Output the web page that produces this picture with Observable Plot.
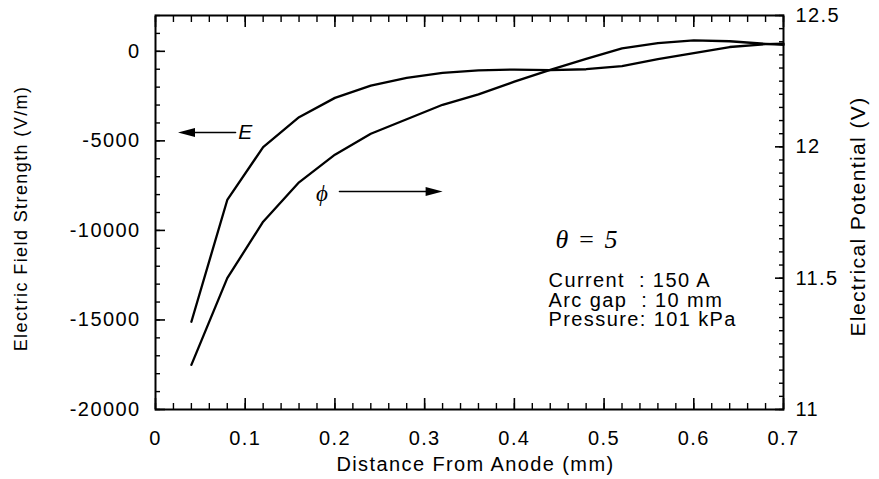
<!DOCTYPE html>
<html><head><meta charset="utf-8">
<script src="https://cdn.jsdelivr.net/npm/d3@7"></script>
<script src="https://cdn.jsdelivr.net/npm/@observablehq/plot@0.6"></script>
<style>
html,body{margin:0;padding:0;background:#fff;}
svg text{letter-spacing:1.4px;}
g[aria-label="ylabel"] text{letter-spacing:0;}
g[aria-label="ylabel2"] text{letter-spacing:1px;}
g[aria-label="info"] text{letter-spacing:1.2px;}
</style></head><body><div id="chart"></div>
<script>
// distance from anode (mm)
const distance  = [0.04, 0.08, 0.12, 0.16, 0.20, 0.24, 0.28, 0.32, 0.36, 0.40, 0.44, 0.48, 0.52, 0.56, 0.60, 0.64, 0.68, 0.70];
// electric field strength (V/m), left axis
const fieldE    = [-15100, -8300, -5350, -3680, -2600, -1920, -1480, -1200, -1060, -1020, -1050, -1000, -830, -430, -100, 240, 400, 430];
// electrical potential (V), right axis
const potential = [11.17, 11.50, 11.715, 11.865, 11.97, 12.05, 12.105, 12.16, 12.20, 12.248, 12.293, 12.335, 12.375, 12.395, 12.405, 12.402, 12.392, 12.388];

const xTicks   = [0, 0.1, 0.2, 0.3, 0.4, 0.5, 0.6, 0.7];
const eTicks   = [-20000, -15000, -10000, -5000, 0];
const phiTicks = [11, 11.5, 12, 12.5];

const E_MIN = -20000, E_MAX = 2000, P_MIN = 11, P_MAX = 12.5, X_MIN = 0, X_MAX = 0.7;
const toE = p => E_MIN + (p - P_MIN) / (P_MAX - P_MIN) * (E_MAX - E_MIN);
const toP = e => P_MIN + (e - E_MIN) / (E_MAX - E_MIN) * (P_MAX - P_MIN);

const xMinor = d3.range(0, 0.7001, 0.02);
const eMinor = d3.range(-20000, 2001, 1000);
const pMinor = d3.range(11, 12.5001, 0.05);

// annotations (data coordinates, left-axis units)
const eArrowLine = [{x: 0.0424, y: -4534}, {x: 0.0892, y: -4534}];
const eArrowHead = [{x: 0.0351, y: -4534}];
const eLabel     = [{x: 0.1009, y: -4534, t: "E"}];
const pArrowLine = [{x: 0.2051, y: -7829}, {x: 0.302, y: -7829}];
const pArrowHead = [{x: 0.310, y: -7829}];
const pLabel     = [{x: 0.1862, y: -7968, t: "\u03d5"}];
const thetaLabel = [{x: 0.4459, y: -10509, t: "\u03b8 = 5"}];
const infoLabel  = [{x: 0.4381, y: -12407, t: "Current\u00a0\u00a0: 150 A\nArc gap\u00a0\u00a0: 10 mm\nPressure: 101 kPa"}];

const series = distance.map((x, i) => ({x, E: fieldE[i], phi: potential[i]}));

const W = 879, H = 479, mL = 155, mR = 96, mT = 15, mB = 70;

const headRight = {draw(ctx) { ctx.moveTo(9, 0); ctx.lineTo(-8, -4.5); ctx.lineTo(-8, 4.5); ctx.closePath(); }};
const headLeft  = {draw(ctx) { ctx.moveTo(-9, 0); ctx.lineTo(8, -4.5); ctx.lineTo(8, 4.5); ctx.closePath(); }};

const font = "'Liberation Sans', Arial, Helvetica, sans-serif";
const serif = "'Liberation Serif', 'Times New Roman', serif";
const blank = () => "";

// inward ticks via axis marks (outward tick of length L shifted inward by L)
function inTicksX(vals, anchor, len, sw) {
  return Plot.axisX({ticks: vals, anchor, tickSize: len, dy: anchor === "bottom" ? -len : len, tickFormat: blank, label: null, strokeWidth: sw});
}
function inTicksY(vals, anchor, len, sw) {
  return Plot.axisY({ticks: vals, anchor, tickSize: len, dx: anchor === "left" ? len : -len, tickFormat: blank, label: null, strokeWidth: sw});
}

const chart = Plot.plot({
  width: W, height: H,
  marginLeft: mL, marginRight: mR, marginTop: mT, marginBottom: mB,
  style: {fontFamily: font, fontSize: "20px", background: "#fff", color: "#000"},
  x: {domain: [X_MIN, X_MAX]},
  y: {domain: [E_MIN, E_MAX]},
  marks: [
    Plot.frame({stroke: "#000", fill: "none", strokeWidth: 2}),
    // inward ticks
    inTicksX(xMinor, "bottom", 6, 1.4),
    inTicksX(xMinor, "top", 6, 1.4),
    inTicksX(xTicks, "bottom", 11, 1.6),
    inTicksX(xTicks, "top", 11, 1.6),
    inTicksY(eMinor, "left", 5, 1.4),
    inTicksY(eTicks, "left", 10, 1.6),
    inTicksY(pMinor.map(toE), "right", 5, 1.4),
    inTicksY(phiTicks.map(toE), "right", 9, 1.6),
    // tick labels
    Plot.axisX({ticks: xTicks, anchor: "bottom", tickSize: 0, tickPadding: 21, tickFormat: d => String(d), label: null, fontSize: 20}),
    Plot.axisY({ticks: eTicks, anchor: "left", tickSize: 0, tickPadding: 15, tickFormat: d => String(d), label: null, fontSize: 20}),
    Plot.axisY({ticks: phiTicks.map(toE), anchor: "right", tickSize: 0, tickPadding: 12, tickFormat: d => String(+toP(d).toFixed(2)), label: null, fontSize: 20}),
    // axis titles
    Plot.text(["Distance From Anode (mm)"], {frameAnchor: "bottom", dx: 6, dy: 55, fontSize: 20, textAnchor: "middle", lineAnchor: "middle"}),
    Plot.text(["Electric Field Strength (V/m)"], {frameAnchor: "left", dx: -134, dy: 6, rotate: -90, fontSize: 18, textAnchor: "middle", lineAnchor: "middle", ariaLabel: "ylabel"}),
    Plot.text(["Electrical Potential (V)"], {frameAnchor: "right", dx: 75, dy: 4, rotate: -90, fontSize: 21, textAnchor: "middle", lineAnchor: "middle", ariaLabel: "ylabel2"}),
    // curves
    Plot.line(series, {x: "x", y: "E", stroke: "#000", strokeWidth: 2.3}),
    Plot.line(series, {x: "x", y: d => toE(d.phi), stroke: "#000", strokeWidth: 2.3}),
    // annotations
    Plot.line(eArrowLine, {x: "x", y: "y", stroke: "#000", strokeWidth: 1.6}),
    Plot.dot(eArrowHead, {x: "x", y: "y", symbol: headLeft, fill: "#000", stroke: "none"}),
    Plot.text(eLabel, {x: "x", y: "y", text: "t", fontSize: 21, fontStyle: "italic", lineAnchor: "middle"}),
    Plot.line(pArrowLine, {x: "x", y: "y", stroke: "#000", strokeWidth: 1.6}),
    Plot.dot(pArrowHead, {x: "x", y: "y", symbol: headRight, fill: "#000", stroke: "none"}),
    Plot.text(pLabel, {x: "x", y: "y", text: "t", fontSize: 23, fontStyle: "italic", fontFamily: serif, lineAnchor: "middle"}),
    Plot.text(thetaLabel, {x: "x", y: "y", text: "t", fontSize: 26, fontStyle: "italic", fontFamily: serif, textAnchor: "start", lineAnchor: "middle"}),
    Plot.text(infoLabel, {x: "x", y: "y", text: "t", fontSize: 20, textAnchor: "start", lineAnchor: "top", lineHeight: 0.97, ariaLabel: "info"})
  ]
});
document.getElementById("chart").appendChild(chart);
</script></body></html>
